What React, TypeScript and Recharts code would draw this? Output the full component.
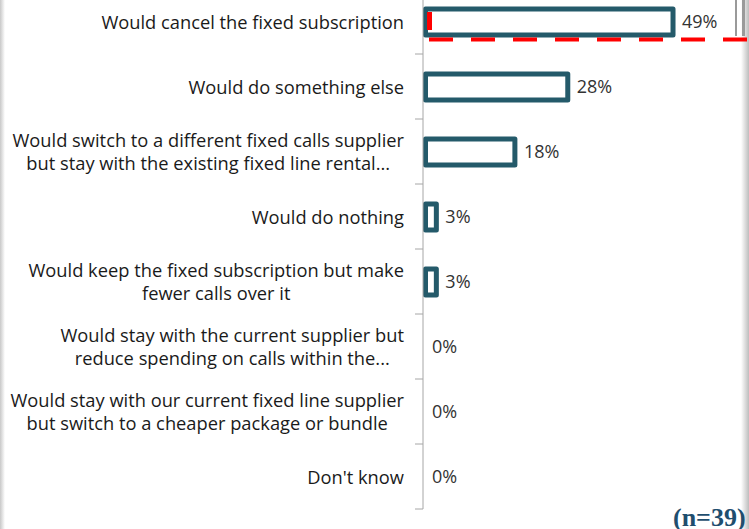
import { BarChart, Bar, XAxis, YAxis, LabelList } from "recharts";

// survey answers, top to bottom
const answers = [
  "Would cancel the fixed subscription",
  "Would do something else",
  "Would switch to a different fixed calls supplier|but stay with the existing fixed line rental...",
  "Would do nothing",
  "Would keep the fixed subscription but make|fewer calls over it",
  "Would stay with the current supplier but|reduce spending on calls within the...",
  "Would stay with our current fixed line supplier|but switch to a cheaper package or bundle",
  "Don't know",
];

// share of respondents (n=39), in %
const shares = [48.7, 28.2, 17.9, 2.6, 2.6, 0, 0, 0];

const sampleLabel = "(n=39)";

const data = answers.map((answer, i) => ({ answer, share: shares[i] }));

const BAR_COLOR = "#245a6a";
const LABEL_FONT = "'Open Sans', sans-serif";
const LABEL_SIZE = 18.3;
const BAND = 65;

let ctx: CanvasRenderingContext2D | null = null;
const measure = (text: string) => {
  if (!ctx) ctx = document.createElement("canvas").getContext("2d");
  if (!ctx) return text.length * 8;
  ctx.font = `${LABEL_SIZE}px ${LABEL_FONT}`;
  return ctx.measureText(text).width;
};

const AnswerTick = (props: any) => {
  const { x, y, payload } = props;
  const lines: string[] = String(payload.value).split("|");
  const right = x - 19;
  const widest = Math.max(...lines.map(measure));
  const cx = right - widest / 2;
  const lineH = 23;
  const top = y - ((lines.length - 1) * lineH) / 2 + 1;
  return (
    <g>
      <line x1={x - 8} x2={x} y1={y + BAND / 2} y2={y + BAND / 2} stroke="#a6a6a6" />
      {lines.map((line, i) => (
        <text
          key={i}
          x={lines.length > 1 ? cx : right}
          y={top + i * lineH}
          dy="0.35em"
          textAnchor={lines.length > 1 ? "middle" : "end"}
          fontFamily={LABEL_FONT}
          fontSize={LABEL_SIZE}
          fill="#1a1a1a"
        >
          {line}
        </text>
      ))}
    </g>
  );
};

const OutlineBar = (props: any) => {
  const { x, y, width, height } = props;
  if (!width || width <= 0) return null;
  return (
    <rect
      x={x + 2.5}
      y={y}
      width={Math.max(width - 2.5, 0)}
      height={height}
      fill="#ffffff"
      stroke={BAR_COLOR}
      strokeWidth={5}
      strokeLinejoin="round"
    />
  );
};

export default function App() {
  return (
    <div style={{ position: "absolute", left: 0, top: 0, width: 749, height: 529, background: "#fff", overflow: "hidden" }}>
      <BarChart
        width={749}
        height={529}
        data={data}
        layout="vertical"
        margin={{ top: -11, right: 0, bottom: 20, left: 0 }}
        barCategoryGap={0}
      >
        <XAxis type="number" domain={[0, 63.5]} allowDataOverflow hide />
        <YAxis
          type="category"
          dataKey="answer"
          width={423}
          axisLine={{ stroke: "#a6a6a6" }}
          tickLine={false}
          tickSize={0}
          tickMargin={0}
          tick={<AnswerTick />}
          interval={0}
        />
        <Bar dataKey="share" barSize={26} shape={<OutlineBar />} isAnimationActive={false}>
          <LabelList
            dataKey="share"
            position="right"
            offset={9}
            formatter={(v: any) => `${Math.round(Number(v))}%`}
            style={{ fontFamily: LABEL_FONT, fontSize: 18, fill: "#333333" }}
          />
        </Bar>
      </BarChart>

      {/* annotation marks and frame edges from the original slide */}
      <svg width={749} height={529} style={{ position: "absolute", left: 0, top: 0, pointerEvents: "none" }}>
        <defs>
          <linearGradient id="edgeR" x1="0" x2="1" y1="0" y2="0">
            <stop offset="0" stopColor="#ffffff" />
            <stop offset="1" stopColor="#bdbdbd" />
          </linearGradient>
          <linearGradient id="edgeL" x1="0" x2="1" y1="0" y2="0">
            <stop offset="0" stopColor="#c8c8c8" />
            <stop offset="1" stopColor="#ffffff" />
          </linearGradient>
        </defs>
        <rect x={0} y={0} width={5} height={529} fill="url(#edgeL)" />
        <rect x={741} y={0} width={8} height={529} fill="url(#edgeR)" />
        <rect x={735} y={0} width={2} height={36} fill="#9a9a9a" />
        <rect x={742} y={0} width={3} height={36} fill="#9a9a9a" />
        <rect x={427} y={12} width={5} height={18} fill="#ff0000" />
        <line x1={429} x2={749} y1={39.5} y2={39.5} stroke="#ff0000" strokeWidth={4} strokeDasharray="24 18" />
        <text
          x={673}
          y={526}
          fontFamily="'Liberation Serif', 'Times New Roman', serif"
          fontWeight="bold"
          fontSize={26}
          fill="#1f4e6e"
        >
          {sampleLabel}
        </text>
      </svg>
    </div>
  );
}
